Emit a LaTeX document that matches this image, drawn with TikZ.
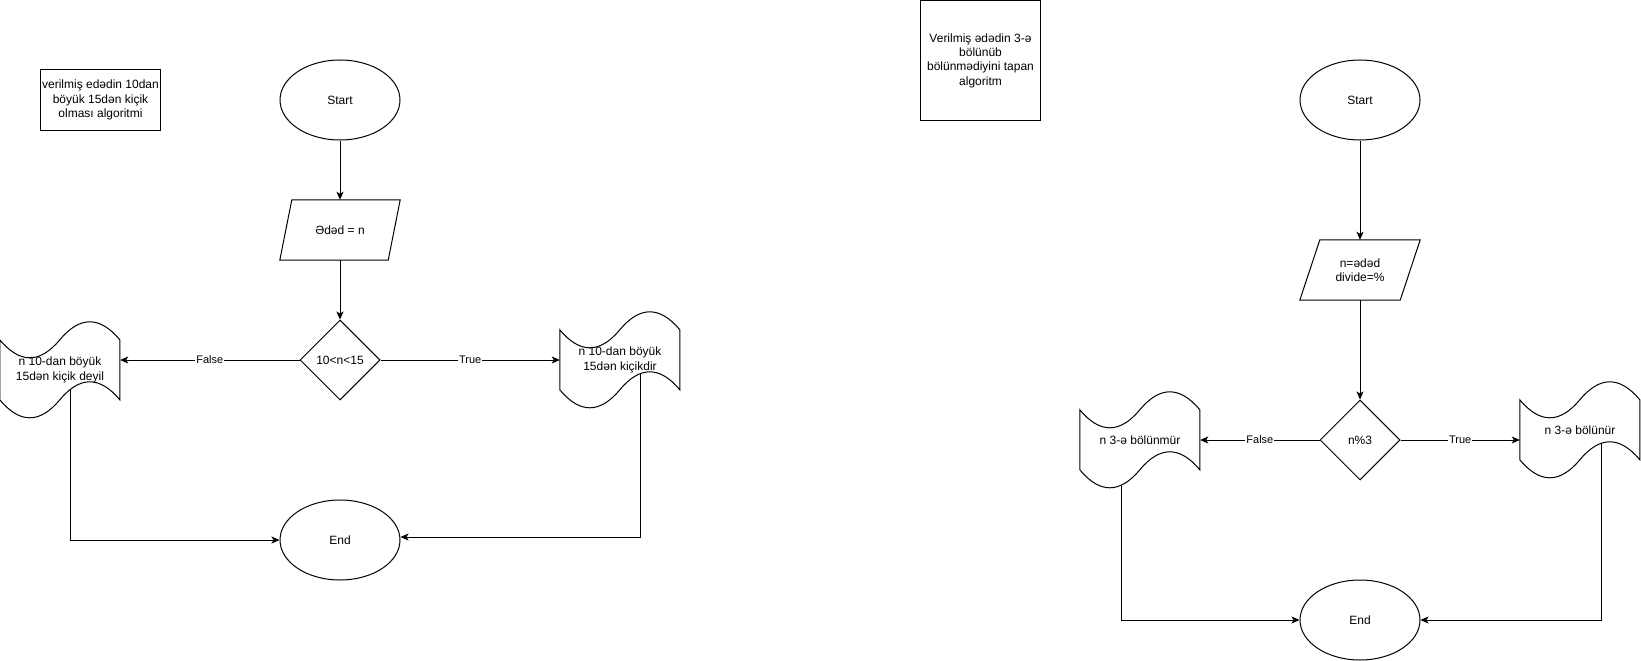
\documentclass[tikz,border=0pt]{standalone}
\usepackage{fontspec}
\setmainfont{Liberation Sans}
\usetikzlibrary{shapes.geometric,arrows.meta,calc}
\newcommand\tapeoutline[1]{%
  \draw[line width=1pt, shift={(#1.north west)}]
    (0,20) .. controls (20,44) and (40,44) .. (60,20)
           .. controls (80,-4) and (100,-4) .. (120,20)
    -- (120,80) .. controls (100,56) and (80,56) .. (60,80)
           .. controls (40,104) and (20,104) .. (0,80) -- cycle;}
\newcommand\paraoutline[2]{%
  \draw[line width=1pt] (#1.south west) -- ($(#1.south east)+(-#2,0)$)
    -- (#1.north east) -- ($(#1.north west)+(#2,0)$) -- cycle;}
\begin{document}
\begin{tikzpicture}[x=1pt,y=-1pt,
  base/.style={font=\fontsize{12}{14.4}\selectfont, align=center, inner sep=0pt, text=black},
  term/.style={base, ellipse, draw, line width=1pt, minimum width=120pt, minimum height=80pt},
  iobox/.style={base, rectangle, minimum width=120pt, minimum height=60pt},
  decide/.style={base, diamond, draw, line width=1pt, minimum width=80pt, minimum height=80pt},
  tapebox/.style={base, rectangle, minimum width=120pt, minimum height=100pt},
  note/.style={base, rectangle, draw, line width=1pt, minimum width=120pt},
  flow/.style={draw, line width=1pt, -{Stealth[length=8pt,width=7pt,inset=2pt]}},
  lbl/.style={fill=white, text=black, font=\fontsize{11}{13}\selectfont, inner sep=1pt}]
\useasboundingbox (0,0) rectangle (1641,661);

% ---------- left diagram ----------
\node[note, minimum height=60pt] (n1) at (100.5,100) {verilmiş edədin 10dan\\böyük 15dən kiçik\\olması algoritmi};
\node[term] (s1) at (340,100) {Start};
\node[iobox] (p1) at (340,230) {Ədəd = n};
\paraoutline{p1}{12}
\node[decide] (d1) at (340,360) {10<n<15};
\node[tapebox] (t1) at (60,370) {n 10-dan böyük\\15dən kiçik deyil};
\tapeoutline{t1}
\node[tapebox] (t2) at (620,360) {n 10-dan böyük\\15dən kiçikdir};
\tapeoutline{t2}
\node[term] (e1) at (340,540) {End};
\coordinate (c1) at (70,390);
\coordinate (c2) at (640,374);

\draw[flow] (s1) -- (p1);
\draw[flow] (p1) -- (d1);
\draw[flow] (d1.west) -- (d1.west -| t1.east) node[lbl, midway] {False};
\draw[flow] (d1.east) -- (d1.east -| t2.west) node[lbl, midway] {True};
\draw[flow] (c1) |- (e1.west);
\draw[flow] (c2) |- ([yshift=3pt]e1.east);

% ---------- right diagram ----------
\node[note, minimum height=119pt] (n2) at (980.5,60.5) {Verilmiş ədədin 3-ə\\bölünüb\\bölünmədiyini tapan\\algoritm};
\node[term] (s2) at (1360,100) {Start};
\node[iobox] (p2) at (1360,270) {n=ədəd\\divide=\%};
\paraoutline{p2}{20}
\node[decide] (d2) at (1360,440) {n\%3};
\node[tapebox] (t3) at (1140,440) {n 3-ə bölünmür};
\tapeoutline{t3}
\node[tapebox] (t4) at (1580,430) {n 3-ə bölünür};
\tapeoutline{t4}
\node[term] (e2) at (1360,620) {End};
\coordinate (c3) at (1121,486);
\coordinate (c4) at (1601,443);

\draw[flow] (s2) -- (p2);
\draw[flow] (p2) -- (d2);
\draw[flow] (d2.west) -- (d2.west -| t3.east) node[lbl, midway] {False};
\draw[flow] (d2.east) -- (d2.east -| t4.west) node[lbl, midway] {True};
\draw[flow] (c3) |- (e2.west);
\draw[flow] (c4) |- (e2.east);
\end{tikzpicture}
\end{document}
